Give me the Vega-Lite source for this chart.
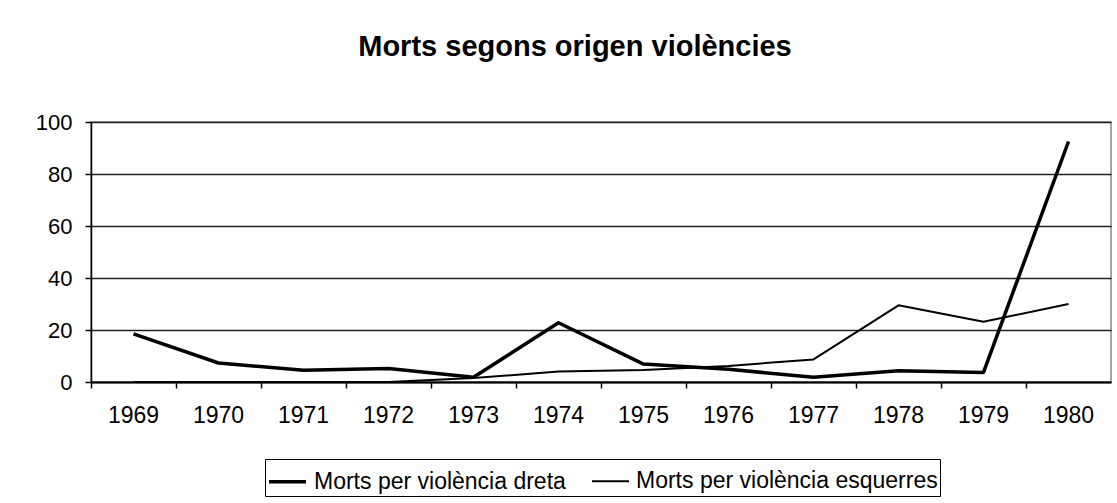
{
  "$schema": "https://vega.github.io/schema/vega-lite/v6.json",
  "autosize": {"type": "none"},
  "width": 1020,
  "height": 260,
  "padding": {"left": 91, "top": 122, "right": 6, "bottom": 121},
  "background": "white",
  "title": {
    "text": "Morts segons origen violències",
    "anchor": "middle",
    "frame": "group",
    "dx": -26,
    "offset": 26,
    "baseline": "alphabetic",
    "font": "Liberation Sans",
    "fontSize": 29,
    "fontWeight": "bold",
    "color": "black"
  },
  "data": {
    "values": [
      {"any": "1969", "serie": "Morts per violència dreta", "morts": 18.5},
      {"any": "1970", "serie": "Morts per violència dreta", "morts": 7.3},
      {"any": "1971", "serie": "Morts per violència dreta", "morts": 4.5},
      {"any": "1972", "serie": "Morts per violència dreta", "morts": 5.2},
      {"any": "1973", "serie": "Morts per violència dreta", "morts": 1.8},
      {"any": "1974", "serie": "Morts per violència dreta", "morts": 22.8},
      {"any": "1975", "serie": "Morts per violència dreta", "morts": 6.9},
      {"any": "1976", "serie": "Morts per violència dreta", "morts": 4.9},
      {"any": "1977", "serie": "Morts per violència dreta", "morts": 1.8},
      {"any": "1978", "serie": "Morts per violència dreta", "morts": 4.3},
      {"any": "1979", "serie": "Morts per violència dreta", "morts": 3.7},
      {"any": "1980", "serie": "Morts per violència dreta", "morts": 92.5},
      {"any": "1969", "serie": "Morts per violència esquerres", "morts": 0},
      {"any": "1970", "serie": "Morts per violència esquerres", "morts": 0},
      {"any": "1971", "serie": "Morts per violència esquerres", "morts": 0},
      {"any": "1972", "serie": "Morts per violència esquerres", "morts": 0},
      {"any": "1973", "serie": "Morts per violència esquerres", "morts": 1.5},
      {"any": "1974", "serie": "Morts per violència esquerres", "morts": 4},
      {"any": "1975", "serie": "Morts per violència esquerres", "morts": 4.6},
      {"any": "1976", "serie": "Morts per violència esquerres", "morts": 6.2},
      {"any": "1977", "serie": "Morts per violència esquerres", "morts": 8.7},
      {"any": "1978", "serie": "Morts per violència esquerres", "morts": 29.5},
      {"any": "1979", "serie": "Morts per violència esquerres", "morts": 23.2},
      {"any": "1980", "serie": "Morts per violència esquerres", "morts": 30}
    ]
  },
  "mark": {"type": "line", "color": "black", "strokeJoin": "round"},
  "encoding": {
    "x": {
      "field": "any",
      "type": "ordinal",
      "bandPosition": 0.5,
      "scale": {"type": "band", "paddingInner": 0, "paddingOuter": 0},
      "axis": {
        "title": null,
        "bandPosition": 0,
        "labelAngle": 0,
        "labelFont": "Liberation Sans",
        "labelFontSize": 23,
        "labelColor": "black",
        "labelPadding": 16,
        "labelBaseline": "top",
        "tickSize": 6,
        "tickColor": "black",
        "tickWidth": 1.5,
        "domainColor": "black",
        "domainWidth": 2,
        "grid": false
      }
    },
    "y": {
      "field": "morts",
      "type": "quantitative",
      "scale": {"domain": [0, 100], "nice": false},
      "axis": {
        "title": null,
        "values": [0, 20, 40, 60, 80, 100],
        "labelFont": "Liberation Sans",
        "labelFontSize": 22,
        "labelColor": "black",
        "labelPadding": 13,
        "tickSize": 6,
        "tickColor": "black",
        "tickWidth": 1.5,
        "domainColor": "black",
        "domainWidth": 1.5,
        "grid": true,
        "gridColor": "#222",
        "gridWidth": 1.5
      }
    },
    "strokeWidth": {
      "field": "serie",
      "type": "ordinal",
      "scale": {"type": "ordinal", "domain": ["Morts per violència dreta", "Morts per violència esquerres"], "range": [3.5, 2]},
      "legend": {
        "title": null,
        "orient": "none",
        "legendX": 174,
        "legendY": 337,
        "direction": "horizontal",
        "strokeColor": "black",
        "fillColor": "white",
        "padding": 2,
        "symbolType": "stroke",
        "symbolSize": 1369,
        "symbolStrokeColor": "black",
        "labelFont": "Liberation Sans",
        "labelFontSize": 23,
        "labelColor": "black",
        "labelOffset": 6,
        "columnPadding": 22,
        "labelLimit": 400
      }
    }
  },
  "config": {
    "view": {"stroke": "#888", "strokeWidth": 1.5}
  }
}
